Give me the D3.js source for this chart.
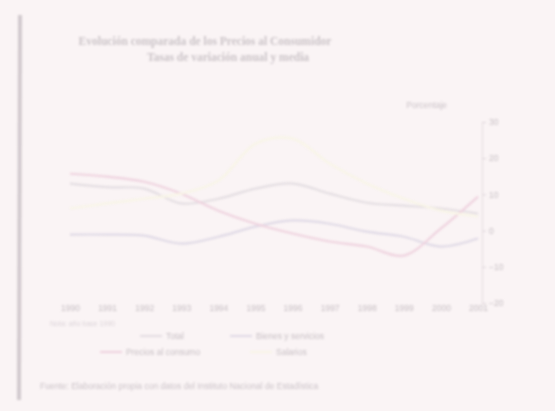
<!DOCTYPE html>
<html>
<head>
<meta charset="utf-8">
<script src="https://cdn.jsdelivr.net/npm/d3@7"></script>
<style>
  body { margin: 0; background: #faf4f5; }
  svg { display: block; filter: blur(1.1px); }
</style>
</head>
<body>
<div id="chart"></div>
<script>
// data (percent)
var years = ["1990", "1991", "1992", "1993", "1994", "1995", "1996", "1997", "1998", "1999", "2000", "2001"];
var serieA = [13, 12, 11.6, 7.5, 8.8, 11.6, 13, 10.2, 7.7, 6.9, 6.1, 4.7];
var serieB = [-1.1, -1.1, -1.4, -3.6, -1.7, 1.1, 2.8, 1.9, -0.3, -1.7, -4.4, -2.2];
var serieC = [15.7, 14.9, 13.5, 10.2, 5.5, 1.9, -0.8, -3.0, -4.4, -6.9, 0.6, 9.4];
var serieD = [6.1, 7.5, 8.8, 10.2, 13.8, 24, 25.4, 18.5, 13, 8.8, 5.5, 3.9];
var yTicks = [30, 20, 10, 0, -10, -20];
var seriesNames = ["Total", "Bienes y servicios", "Precios al consumo", "Salarios"];

var width = 555, height = 411;

var svg = d3.select("#chart")
    .append("svg")
    .attr("width", width)
    .attr("height", height);

// scan border on the left
svg.append("line")
    .attr("x1", 20).attr("x2", 19)
    .attr("y1", 15).attr("y2", 400)
    .attr("stroke", "#d2cace")
    .attr("stroke-width", 4);

// title
var title = svg.append("g")
    .attr("font-family", "Liberation Serif, serif")
    .attr("font-size", 11.5)
    .attr("font-weight", "bold")
    .attr("fill", "#cbc4c8")
    .attr("text-anchor", "middle");
title.append("text").attr("x", 205).attr("y", 45)
    .text("Evolución comparada de los Precios al Consumidor");
title.append("text").attr("x", 228).attr("y", 61)
    .text("Tasas de variación anual y media");

var x = d3.scalePoint()
    .domain(years)
    .range([70, 478]);

var y = d3.scaleLinear()
    .domain([-20, 30])
    .range([303, 122]);

// right axis
var yAxis = svg.append("g")
    .attr("transform", "translate(482,0)")
    .call(d3.axisRight(y).tickValues(yTicks).tickSize(4).tickFormat(d3.format("d")));
yAxis.select(".domain").attr("stroke", "#e6dde2");
yAxis.selectAll(".tick line").attr("stroke", "#ddd4d9");
yAxis.selectAll(".tick text")
    .attr("fill", "#c8c0c5")
    .attr("font-size", 8.5)
    .attr("font-family", "Liberation Sans, sans-serif");

svg.append("text")
    .attr("x", 447).attr("y", 108)
    .attr("text-anchor", "end")
    .attr("font-size", 8.5)
    .attr("font-family", "Liberation Sans, sans-serif")
    .attr("fill", "#cbc3c8")
    .text("Porcentaje");

// x labels
var xAxis = svg.append("g")
    .attr("transform", "translate(0,300)")
    .call(d3.axisBottom(x).tickSize(0).tickPadding(5));
xAxis.select(".domain").remove();
xAxis.selectAll(".tick text")
    .attr("fill", "#c8c0c5")
    .attr("font-size", 8.5)
    .attr("font-family", "Liberation Sans, sans-serif");

var line = d3.line()
    .x(function (d, i) { return x(years[i]); })
    .y(function (d) { return y(d); })
    .curve(d3.curveCatmullRom);

var series = [
    { name: seriesNames[0], values: serieA, color: "#e4dee2" },
    { name: seriesNames[1], values: serieB, color: "#e0dae6" },
    { name: seriesNames[2], values: serieC, color: "#efd3df" },
    { name: seriesNames[3], values: serieD, color: "#f8f5e6" }
];

svg.append("g")
    .selectAll("path")
    .data(series)
    .enter().append("path")
    .attr("fill", "none")
    .attr("stroke", function (d) { return d.color; })
    .attr("stroke-width", 2.2)
    .attr("d", function (d) { return line(d.values); });

// note under the axis
svg.append("text")
    .attr("x", 50).attr("y", 326)
    .attr("font-size", 7)
    .attr("font-family", "Liberation Sans, sans-serif")
    .attr("fill", "#dcd4d9")
    .text("Nota: año base 1990");

// legend
var legendPos = [[140, 336], [230, 336], [100, 352], [250, 352]];
var legend = svg.append("g")
    .attr("font-family", "Liberation Sans, sans-serif")
    .attr("font-size", 8.5)
    .attr("fill", "#c8c0c5")
    .selectAll("g")
    .data(series)
    .enter().append("g")
    .attr("transform", function (d, i) { return "translate(" + legendPos[i][0] + "," + legendPos[i][1] + ")"; });

legend.append("line")
    .attr("x1", 0).attr("x2", 22)
    .attr("stroke", function (d) { return d.color; })
    .attr("stroke-width", 2);

legend.append("text")
    .attr("x", 26)
    .attr("dy", "0.32em")
    .text(function (d) { return d.name; });

// source
svg.append("text")
    .attr("x", 40).attr("y", 389)
    .attr("font-size", 8.5)
    .attr("font-family", "Liberation Sans, sans-serif")
    .attr("fill", "#cbc3c8")
    .text("Fuente: Elaboración propia con datos del Instituto Nacional de Estadística");
</script>
</body>
</html>
